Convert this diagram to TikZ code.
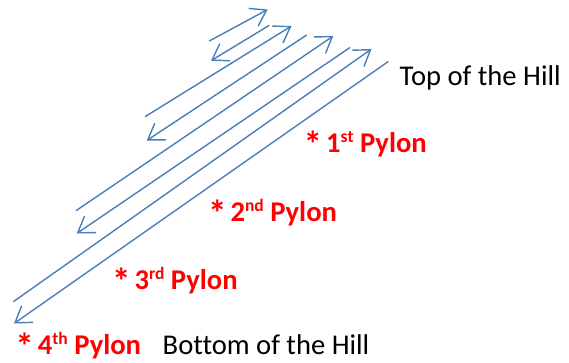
\documentclass[tikz,border=0pt]{standalone}
\usepackage{fontspec}
\setmainfont[Ligatures=NoCommon]{Carlito}
\usetikzlibrary{arrows.meta}
\definecolor{liftblue}{RGB}{74,126,187}
\definecolor{pylonred}{RGB}{255,0,0}
\newcommand{\supx}[1]{\raisebox{10pt}{\fontsize{17.5}{17.5}\selectfont #1}}
\newcommand{\astx}{\raisebox{-5pt}{\scalebox{1.3}{*}}\hspace{4pt}}
\begin{document}
\begin{tikzpicture}[x=1pt,y=-1pt,
  cable/.style={draw=liftblue,line width=1.4pt},
  tip/.style={-{Straight Barb[length=15pt,width=20pt,line width=1.4pt]}},
  pylon/.style={anchor=base west,inner sep=0pt,text=pylonred,font=\fontsize{28.6}{31}\selectfont\bfseries},
  hill/.style={anchor=base west,inner sep=0pt,text=black,font=\fontsize{28.6}{30}\selectfont}]
\useasboundingbox (0,0) rectangle (569,362);
% cable end points
\coordinate (a1) at (209.3,41);   \coordinate (a2) at (267.7,9.5);
\coordinate (b1) at (269.3,25.3); \coordinate (b2) at (211,60.7);
\coordinate (c1) at (145,116.7);  \coordinate (c2) at (291.5,26);
\coordinate (d1) at (306.7,35);   \coordinate (d2) at (146.7,140.5);
\coordinate (e1) at (76,210.7);   \coordinate (e2) at (333.3,36);
\coordinate (f1) at (350,47.5);   \coordinate (f2) at (76.7,233.5);
\coordinate (g1) at (13.3,301.7); \coordinate (g2) at (371.5,49);
\coordinate (h1) at (388.3,61.5); \coordinate (h2) at (14,323.5);
\draw[cable,tip] (a1) -- (a2);
\draw[cable,tip] (b1) -- (b2);
\draw[cable,tip] (c1) -- (c2);
\draw[cable,tip] (d1) -- (d2);
\draw[cable,tip] (e1) -- (e2);
\draw[cable,tip] (f1) -- (f2);
\draw[cable,tip] (g1) -- (g2);
\draw[cable,tip] (h1) -- (h2);
% labels
\node[hill] (top) at (399.5,85.7) {Top of the Hill};
\node[hill] (bottom) at (162.5,354) {Bottom of the Hill};
\node[pylon] (p1) at (303.5,152.3) {\astx 1\supx{st} Pylon};
\node[pylon] (p2) at (207.8,221) {\astx 2\supx{nd} Pylon};
\node[pylon] (p3) at (111.8,289) {\astx 3\supx{rd} Pylon};
\node[pylon] (p4) at (15.2,354) {\astx 4\supx{th} Pylon};
\end{tikzpicture}
\end{document}
